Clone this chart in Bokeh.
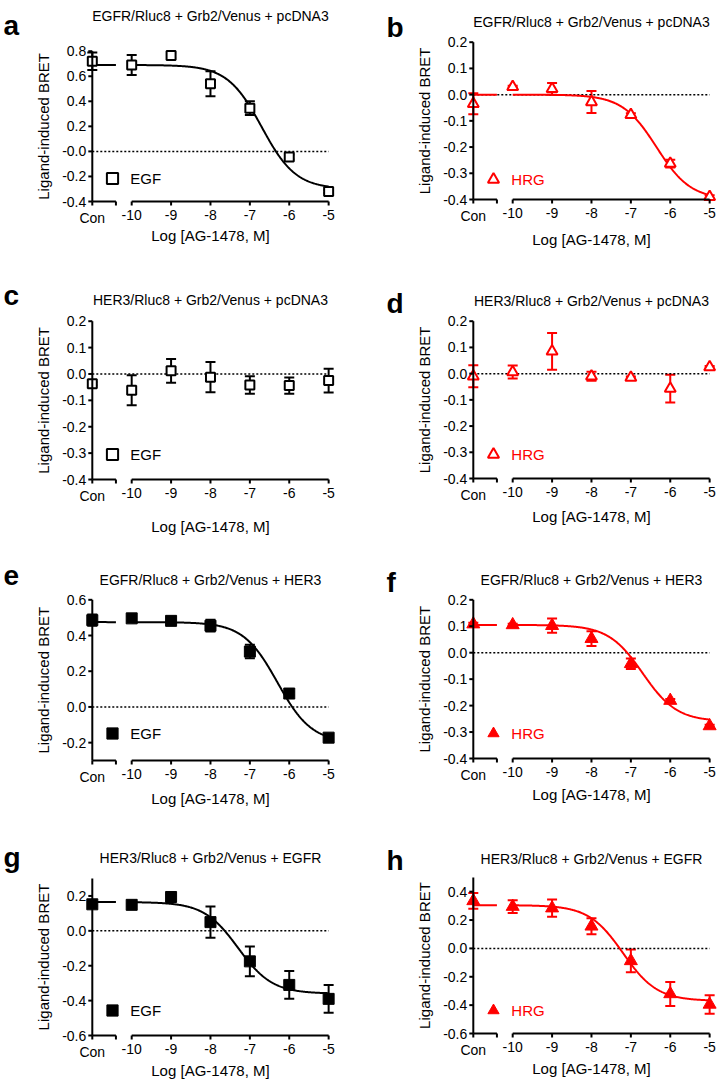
import numpy as np
from bokeh.plotting import figure
from bokeh.models import (LinearAxis, FixedTicker, Label, Whisker, TeeHead,
                          ColumnDataSource, Legend, LegendItem)
from bokeh.layouts import row, column
from bokeh.embed import file_html
from bokeh.resources import INLINE

# ---------------- data ----------------
x_vals = [-11, -10, -9, -8, -7, -6, -5]
x_labels = ["Con", "-10", "-9", "-8", "-7", "-6", "-5"]
x_title = "Log [AG-1478, M]"
y_title = "Ligand-induced BRET"

panel_letters = ["a", "b", "c", "d", "e", "f", "g", "h"]
panel_titles = [
    "EGFR/Rluc8 + Grb2/Venus + pcDNA3",
    "EGFR/Rluc8 + Grb2/Venus + pcDNA3",
    "HER3/Rluc8 + Grb2/Venus + pcDNA3",
    "HER3/Rluc8 + Grb2/Venus + pcDNA3",
    "EGFR/Rluc8 + Grb2/Venus + HER3",
    "EGFR/Rluc8 + Grb2/Venus + HER3",
    "HER3/Rluc8 + Grb2/Venus + EGFR",
    "HER3/Rluc8 + Grb2/Venus + EGFR",
]
panel_ligands = ["EGF", "HRG", "EGF", "HRG", "EGF", "HRG", "EGF", "HRG"]

a_mean = [0.72, 0.69, 0.765, 0.54, 0.345, -0.045, -0.32]
a_sem = [0.07, 0.08, 0.02, 0.10, 0.055, 0.02, 0.012]
b_mean = [-0.035, 0.03, 0.022, -0.028, -0.077, -0.263, -0.39]
b_sem = [0.04, 0.004, 0.022, 0.042, 0.006, 0.015, 0.006]
c_mean = [-0.037, -0.062, 0.012, -0.012, -0.042, -0.044, -0.025]
c_sem = [0.006, 0.057, 0.045, 0.057, 0.033, 0.031, 0.045]
d_mean = [-0.01, 0.006, 0.085, -0.01, -0.015, -0.057, 0.025]
d_sem = [0.042, 0.025, 0.07, 0.017, 0.004, 0.053, 0.004]
e_mean = [0.486, 0.496, 0.482, 0.455, 0.31, 0.075, -0.172]
e_sem = [0.032, 0.012, 0.008, 0.033, 0.038, 0.01, 0.02]
f_mean = [0.108, 0.105, 0.102, 0.053, -0.042, -0.181, -0.277]
f_sem = [0.005, 0.004, 0.027, 0.028, 0.02, 0.006, 0.005]
g_mean = [0.152, 0.149, 0.194, 0.05, -0.175, -0.31, -0.39]
g_sem = [0.008, 0.008, 0.008, 0.09, 0.085, 0.08, 0.08]
h_mean = [0.335, 0.295, 0.284, 0.156, -0.088, -0.321, -0.395]
h_sem = [0.055, 0.045, 0.06, 0.056, 0.08, 0.085, 0.065]

# fitted sigmoid parameters: [top, bottom, logIC50]; None = no fit drawn
a_fit = [0.69, -0.30, -6.7]
b_fit = [0.0, -0.40, -6.35]
c_fit = None
d_fit = None
e_fit = [0.475, -0.20, -6.3]
f_fit = [0.105, -0.26, -6.7]
g_fit = [0.165, -0.36, -7.3]
h_fit = [0.305, -0.37, -7.2]

# y axes: limits, ticks and tick labels
a_ylim = [-0.4, 0.8]
a_yticks = [-0.4, -0.2, 0.0, 0.2, 0.4, 0.6, 0.8]
a_ylabels = ["-0.4", "-0.2", "-0.0", "0.2", "0.4", "0.6", "0.8"]
tenth_ylim = [-0.4, 0.2]
tenth_yticks = [-0.4, -0.3, -0.2, -0.1, 0.0, 0.1, 0.2]
tenth_ylabels = ["-0.4", "-0.3", "-0.2", "-0.1", "0.0", "0.1", "0.2"]
e_ylim = [-0.3, 0.6]
e_yticks = [-0.2, 0.0, 0.2, 0.4, 0.6]
e_ylabels = ["-0.2", "0.0", "0.2", "0.4", "0.6"]
g_ylim = [-0.6, 0.3]
g_yticks = [-0.6, -0.4, -0.2, 0.0, 0.2]
g_ylabels = ["-0.6", "-0.4", "-0.2", "0.0", "0.2"]
h_ylim = [-0.6, 0.5]
h_yticks = [-0.6, -0.4, -0.2, 0.0, 0.2, 0.4]
h_ylabels = ["-0.6", "-0.4", "-0.2", "0.0", "0.2", "0.4"]

means = [a_mean, b_mean, c_mean, d_mean, e_mean, f_mean, g_mean, h_mean]
sems = [a_sem, b_sem, c_sem, d_sem, e_sem, f_sem, g_sem, h_sem]
fits = [a_fit, b_fit, c_fit, d_fit, e_fit, f_fit, g_fit, h_fit]
ylims = [a_ylim, tenth_ylim, tenth_ylim, tenth_ylim, e_ylim, tenth_ylim, g_ylim, h_ylim]
yticks = [a_yticks, tenth_yticks, tenth_yticks, tenth_yticks, e_yticks, tenth_yticks, g_yticks, h_yticks]
ylabels = [a_ylabels, tenth_ylabels, tenth_ylabels, tenth_ylabels, e_ylabels, tenth_ylabels, g_ylabels, h_ylabels]

# ---------------- style / layout ----------------
BLACK = "#000000"
RED = "#ff0000"
FONT = "Liberation Sans"
CON_END = -10.4           # end of the "Con" axis segment (axis break)
PPX = 39.39               # px per decade
FIG_W = 363
MB = 2                    # thin border around each frame
TICK = 4                  # tick length, px
COL_X0 = [0, 363]         # page x of each column
CON_PX = [91.8, 472.8]    # page x of the "Con" position / y axis
ROW_TOPS = [0, 270, 540, 810]
ROW_H = [270, 270, 270, 275]
LETTER_X = [3, 386]
YT_DX = 48.5              # y title centre left of the y axis
LEG_DX = 20.5             # legend glyph centre right of y axis
# per panel page positions: top of y axis, bottom of y axis, title y, letter baseline,
# x-title offset below axis, legend glyph height above y-axis bottom
LAYOUT = [
    (50.7, 201, 15, 25, 34, 23),
    (41.7, 199, 21.7, 27, 40, 20),
    (320.7, 479, 299, 295, 47, 25),
    (320.7, 478, 300, 303, 38, 24),
    (599.3, 760, 579, 575, 38, 27),
    (599.3, 758, 579, 582, 36, 25),
    (878, 1035, 857, 857, 35, 25),
    (877, 1033, 858, 860, 35, 23),
]


def sigmoid(x, top, bottom, logc):
    x = np.asarray(x, dtype=float)
    return bottom + (top - bottom) / (1.0 + 10.0 ** (x - logc))


def label_axis(ax):
    # Bokeh axis used for its tick labels; rule and ticks are drawn as segments
    ax.level = "underlay"
    try:
        ax.background_fill_color = None
    except Exception:
        pass
    ax.axis_line_color = None
    ax.major_tick_line_color = None
    ax.minor_tick_line_color = None
    ax.major_tick_out = TICK
    ax.major_tick_in = 0
    ax.minor_tick_out = TICK
    ax.minor_tick_in = 0
    ax.major_label_text_font = FONT
    ax.major_label_text_font_size = "14px"
    ax.major_label_text_color = BLACK


def make_panel(i):
    col, r = i % 2, i // 2
    top_px, bot_px, title_y, letter_base, xt_off, leg_dy = LAYOUT[i]
    row_top, H = ROW_TOPS[r], ROW_H[r]
    ymin, ymax = ylims[i]
    ppu = (bot_px - top_px) / (ymax - ymin)
    con_px = CON_PX[col]

    def px2x(px):
        return x_vals[0] + (px - con_px) / PPX

    def py2y(py):
        return ymin + (bot_px - py) / ppu

    # the frame covers (almost) the whole figure so nothing is clipped
    x_range = (px2x(COL_X0[col] + MB), px2x(COL_X0[col] + FIG_W - MB))
    y_range = (py2y(row_top + H - MB), py2y(row_top + MB))

    color = BLACK if panel_ligands[i] == "EGF" else RED
    filled = i >= 4
    marker = "square" if panel_ligands[i] == "EGF" else "triangle"

    p = figure(width=FIG_W, height=H, x_range=x_range, y_range=y_range,
               x_axis_location=None, y_axis_location=None,
               toolbar_location=None, output_backend="svg",
               min_border_left=MB, min_border_right=MB,
               min_border_top=MB, min_border_bottom=MB,
               outline_line_color=None)
    p.background_fill_color = "white"
    p.border_fill_color = "white"
    p.grid.visible = False

    # zero reference line
    p.segment(x0=[x_vals[0]], y0=[0.0], x1=[x_vals[-1]], y1=[0.0],
              line_color=BLACK, line_width=1.5, line_dash="2 2")

    # fitted curve
    fit = fits[i]
    if fit is not None:
        xs_con = np.linspace(x_vals[0], CON_END, 10)
        xs_main = np.linspace(x_vals[1], x_vals[-1], 300)
        p.line(xs_con, sigmoid(xs_con, *fit), line_color=color, line_width=2)
        p.line(xs_main, sigmoid(xs_main, *fit), line_color=color, line_width=2)

    # axis rules and ticks (Con segment, break, -10 .. -5 segment)
    dx_tick = TICK / PPX
    dy_tick = TICK / ppu
    p.segment(x0=[x_vals[0], x_vals[0], x_vals[1]], y0=[ymin, ymin, ymin],
              x1=[x_vals[0], CON_END, x_vals[-1]], y1=[ymax, ymin, ymin],
              line_color=BLACK, line_width=2, level="overlay")
    p.segment(x0=[x_vals[0] - dx_tick] * len(yticks[i]), y0=yticks[i],
              x1=[x_vals[0]] * len(yticks[i]), y1=yticks[i],
              line_color=BLACK, line_width=2, level="overlay")
    xt = x_vals + [CON_END]
    p.segment(x0=xt, y0=[ymin] * len(xt), x1=xt, y1=[ymin - dy_tick] * len(xt),
              line_color=BLACK, line_width=2, level="overlay")

    m = np.array(means[i])
    s = np.array(sems[i])
    src = ColumnDataSource(dict(x=x_vals, y=list(m), upper=list(m + s), lower=list(m - s)))
    w = Whisker(source=src, base="x", upper="upper", lower="lower", dimension="height",
                line_color=color, line_width=2, level="underlay",
                upper_head=TeeHead(size=10, line_color=color, line_width=2),
                lower_head=TeeHead(size=10, line_color=color, line_width=2))
    p.add_layout(w)

    if filled:
        size = 11 if marker == "square" else 13
        rend = p.scatter("x", "y", source=src, marker=marker, size=size,
                         fill_color=color, line_color=color, line_width=1)
    else:
        size = 9 if marker == "square" else 11
        rend = p.scatter("x", "y", source=src, marker=marker, size=size,
                         fill_color="white", line_color=color, line_width=2)

    # axes (tick labels) at fixed data positions
    yax = LinearAxis(fixed_location=x_vals[0], bounds=(ymin, ymax),
                     ticker=FixedTicker(ticks=yticks[i]),
                     major_label_overrides={t: l for t, l in zip(yticks[i], ylabels[i])})
    label_axis(yax)
    yax.major_label_standoff = 2
    p.add_layout(yax, "left")

    x_con = LinearAxis(fixed_location=ymin, bounds=(x_vals[0], CON_END),
                       ticker=FixedTicker(ticks=[x_vals[0]], minor_ticks=[CON_END]),
                       major_label_overrides={x_vals[0]: x_labels[0]})
    label_axis(x_con)
    x_con.major_label_standoff = 4
    p.add_layout(x_con, "below")

    x_main = LinearAxis(fixed_location=ymin, bounds=(x_vals[1], x_vals[-1]),
                        ticker=FixedTicker(ticks=x_vals[1:], minor_ticks=[]),
                        major_label_overrides={t: l for t, l in zip(x_vals[1:], x_labels[1:])})
    label_axis(x_main)
    x_main.major_label_standoff = 4
    p.add_layout(x_main, "below")

    # texts
    xmid = (x_vals[0] + x_vals[-1]) / 2
    p.add_layout(Label(x=px2x(LETTER_X[col]), y=py2y(letter_base), text=panel_letters[i],
                       text_font=FONT, text_font_size="28px", text_font_style="bold",
                       text_color=BLACK, text_align="left", text_baseline="alphabetic"))
    p.add_layout(Label(x=xmid, y=py2y(title_y), text=panel_titles[i],
                       text_font=FONT, text_font_size="14px", text_color=BLACK,
                       text_align="center", text_baseline="middle"))
    p.add_layout(Label(x=px2x(con_px - YT_DX), y=(ymin + ymax) / 2, text=y_title,
                       angle=np.pi / 2, text_font=FONT, text_font_size="15px",
                       text_color=BLACK, text_align="center", text_baseline="middle"))
    p.add_layout(Label(x=xmid, y=py2y(bot_px + xt_off), text=x_title,
                       text_font=FONT, text_font_size="15px", text_color=BLACK,
                       text_align="center", text_baseline="middle"))

    # legend: glyph box 28x28, so the glyph centre is 14 px in from the corner
    gx = con_px + LEG_DX - (COL_X0[col] + MB)
    gy = (row_top + H - MB) - (bot_px - leg_dy)
    legend = Legend(items=[LegendItem(label=panel_ligands[i], renderers=[rend])],
                    location=(gx - 14, gy - 14),
                    padding=0, margin=0, spacing=0, glyph_width=28, glyph_height=28,
                    label_standoff=4, label_text_font=FONT, label_text_font_size="15px",
                    label_text_color=color, border_line_color=None,
                    background_fill_alpha=0)
    p.add_layout(legend)
    return p


panels = [make_panel(i) for i in range(8)]
layout = column(row(panels[0], panels[1]), row(panels[2], panels[3]),
                row(panels[4], panels[5]), row(panels[6], panels[7]))

open("out.html", "w").write(file_html(layout, INLINE))
